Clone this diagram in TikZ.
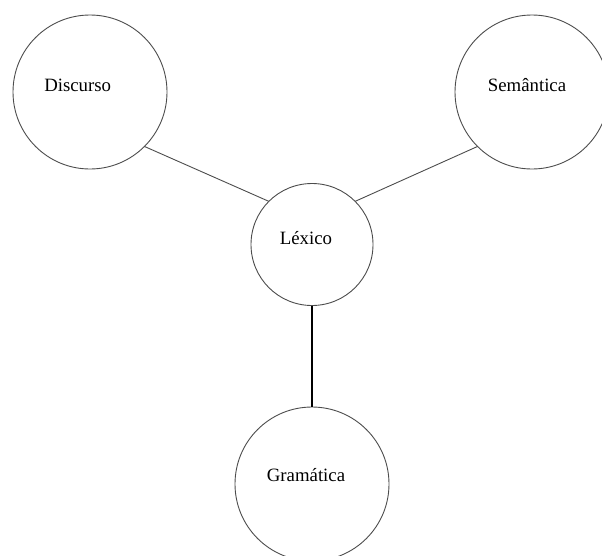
\documentclass[tikz,border=0pt]{standalone}
\usepackage{fontspec}
\setmainfont{Liberation Serif}
\begin{document}
\begin{tikzpicture}[x=1pt,y=-1pt,
  bubble/.style={circle,draw=black!70,line width=0.9pt,minimum size=154pt,inner sep=0pt,outer sep=0pt},
  smallbubble/.style={bubble,minimum size=122pt},
  lbl/.style={inner sep=0pt,font=\fontsize{18.8}{22}\selectfont},
  link/.style={draw=black!70,line width=0.9pt},
  stem/.style={draw=black,line width=1.2pt}]
\useasboundingbox (0,0) rectangle (602,555);
\node[bubble] (disc) at (90,92) {};
\node[bubble] (sem) at (532,92) {};
\node[smallbubble] (lex) at (312,244.5) {};
\node[bubble] (gram) at (312,484) {};
\node[lbl] (disct) at (77.7,85) {Discurso};
\node[lbl] (semt) at (527,85) {Semântica};
\node[lbl] (lext) at (306,238) {Léxico};
\node[lbl] (gramt) at (306,475) {Gramática};
\draw[link] (disc.south east) -- (lex.north west);
\draw[link] (sem.south west) -- (lex.north east);
\draw[stem] (lex.south) -- (gram.north);
\end{tikzpicture}
\end{document}
